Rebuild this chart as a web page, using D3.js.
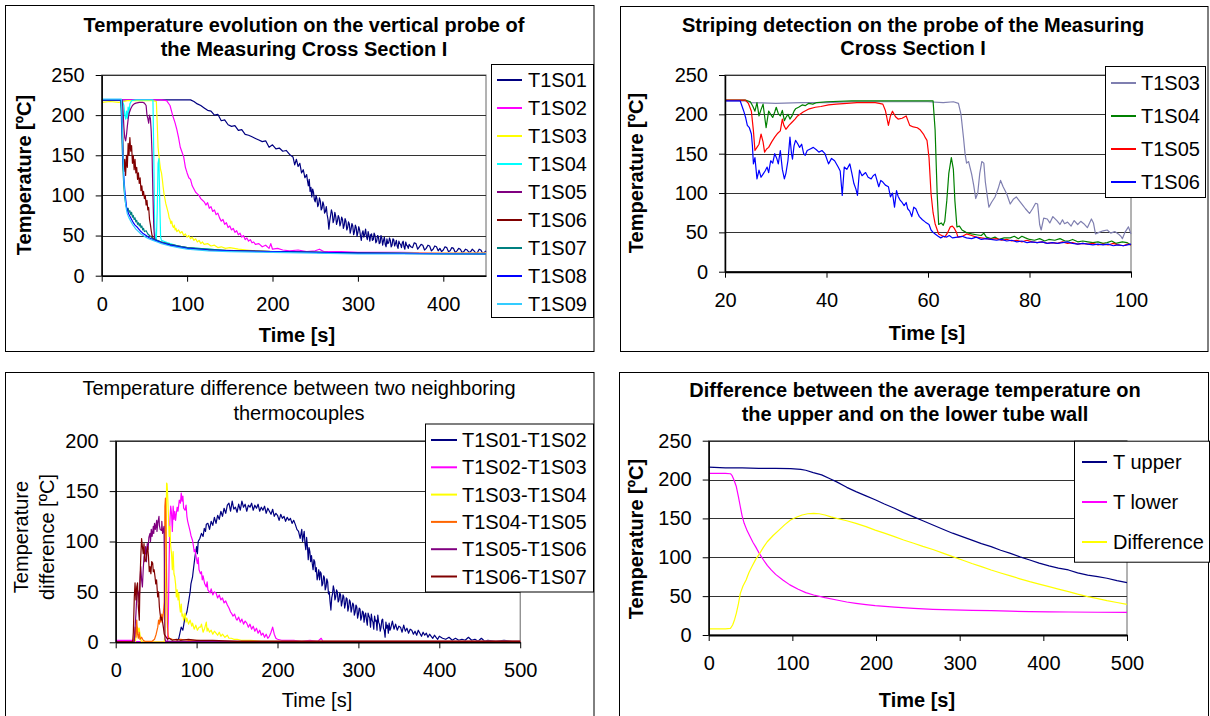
<!DOCTYPE html>
<html>
<head>
<meta charset="utf-8">
<script src="https://cdn.jsdelivr.net/npm/d3@7"></script>
<style>
  body { margin: 0; background: #fff; }
  svg { display: block; font-family: "Liberation Sans", Arial, sans-serif; }
</style>
</head>
<body>
<svg id="chart" width="1210" height="716"></svg>
<script>
// ---------- Panel 1: temperature evolution, vertical probe (time [s], temp [ºC]) ----------
const p1XTicks = [0, 100, 200, 300, 400];
const p1YTicks = [0, 50, 100, 150, 200, 250];

const t1s01 = [[0,219],[50,219],[100,219],[104,219],[108,217],[112,214],[116,212],[120,209],[124,206],[128,205],[132,200],[136,201],[140,193],[144,194],[148,188],[152,186],[156,187],[160,181],[164,182],[168,176],[172,175],[176,173],[180,171],[184,169],[188,167],[192,168],[196,160],[200,163],[204,158],[208,159],[212,155],[216,156],[220,151],[224,148],[226,138],[228,145],[230,136],[232,140],[234,128],[236,132],[238,122],
  [240,126],[241,118],[242,112],[243,120],[244,105],[245,110],[246,98],[247,108],[248,104],[249,95],[250,92],[251,100],[252,96],[253,86],[254,89],[255,97],[256,93],[257,82],[258,84],[259,92],[260,88],[261,78],[262,80],[263,86],[264,76],[265,70],[266,58],[267,68],[268,75],[269,82],[270,78],[271,66],[272,70],[273,79],[274,74],[275,64],[276,68],[277,75],[278,72],[279,62],[280,66],[281,73],[282,70],[283,59],[284,63],[285,71],[286,68],[287,57],[288,60],[289,67],[290,64],[291,53],[292,58],[293,65],[294,62],[295,51],[296,55],[297,63],[298,60],[299,49],[300,54],[301,61],[302,57],[303,50],[304,44],[305,53],[306,56],[307,48],[308,52],[309,58],[310,49],[311,45],[312,55],[313,50],[314,43],[315,51],[316,52],[317,44],[318,45],[319,53],[320,50],[321,41],[322,43],[323,50],[324,49],[325,40],[326,41],[327,50],[328,47],[329,38],[330,44],[331,48],[332,39],[333,36],[334,46],[335,40],[336,41],[337,47],[338,44],[339,36],[340,38],[341,46],[342,45],[343,37],[344,40],[345,44],[346,37],[347,34],[348,43],[349,40],[350,39],[351,35],[352,41],[353,43],[354,36],[355,33],[356,42],[357,38],[358,37],[359,34],[360,39],
  [362,36],[364,35],[366,41],[368,40],[370,33],[372,36],[374,39],[376,38],[378,32],[380,34],[382,38],[384,37],[386,31],[388,33],[390,37],[392,36],[394,31],[396,34],[398,30],[400,32],[402,36],[404,35],[406,30],[408,31],[410,35],[412,34],[414,29],[416,31],[418,34],[420,33],[422,29],[424,30],[426,33],[428,32],[430,29],[432,30],[434,33],[436,31],[438,28],[440,29],[442,33],[444,32],[446,28],[448,29],[450,31]];
const t1s02 = [[0,219],[70,219],[76,218],[80,212],[83,200],[86,190],[88,182],[90,172],[92,160],[94,154],[96,148],[98,135],[100,128],[102,122],[104,120],[106,112],[108,108],[110,104],[112,102],[114,100],[116,96],[118,94],[120,92],[122,88],[124,91],[126,84],[128,86],[130,80],[132,82],[134,76],[136,78],[138,72],[140,68],[142,70],[144,64],[146,66],[148,60],[150,62],[152,57],[154,59],[156,54],[158,56],[160,51],[162,53],[164,48],[166,50],[168,45],[170,47],[172,43],[174,45],[176,41],[178,42],[180,39],[184,40],[188,36],[192,38],[196,34],[198,40],[200,33],[206,34],[212,32],[220,31],[230,32],[240,30],[250,31],[255,33],[260,30],[280,30],[300,29],[350,29],[400,28],[450,28]];
const t1s03 = [[0,216],[10,217],[20,216],[30,218],[40,218],[50,218],[60,218],[64,217],[65,190],[66,160],[67,150],[68,140],[69,132],[70,128],[71,120],[72,110],[73,102],[74,96],[75,90],[76,86],[77,82],[78,78],[79,72],[80,70],[81,65],[82,68],[83,62],[84,60],[85,63],[86,57],[87,59],[88,55],[90,57],[92,53],[94,55],[96,50],[98,52],[100,48],[102,50],[104,46],[106,48],[108,44],[110,46],[112,42],[114,44],[116,40],[118,42],[120,39],[124,40],[128,37],[132,38],[136,35],[140,36],[145,34],[150,35],[160,33],[170,32],[180,31],[200,30],[250,29],[300,28],[450,28]];
const t1s04 = [[0,219],[24,219],[26,212],[27,200],[28,195],[29,205],[30,196],[31,210],[32,200],[33,214],[35,218],[40,219],[60,219],[61,150],[62,60],[63,46],[64,45],[65,80],[66,140],[67,146],[68,90],[69,48],[70,44],[75,42],[80,40],[90,37],[100,35],[125,33],[150,31],[200,30],[250,29],[300,28],[350,28],[400,27],[450,27]];
const t1s05 = [[0,219],[24,219],[25,205],[26,185],[27,172],[28,168],[29,175],[30,186],[31,195],[32,202],[34,208],[36,212],[38,214],[40,215],[44,216],[48,216],[50,215],[52,212],[53,200],[54,196],[55,190],[56,200],[57,196],[58,180],[59,150],[60,100],[61,60],[62,46],[64,44],[70,42],[80,39],[90,37],[100,35],[125,32],[150,31],[200,30],[300,28],[450,27]];
const t1s06 = [[0,219],[23,219],[24,200],[25,160],[26,130],[27,145],[28,125],[29,150],[30,135],[31,165],[32,150],[33,172],[34,155],[35,162],[36,140],[37,150],[38,132],[39,145],[40,128],[41,135],[42,120],[43,128],[44,115],[45,122],[46,106],[47,112],[48,100],[49,105],[50,96],[51,100],[52,88],[53,94],[54,82],[55,85],[56,70],[57,64],[58,56],[59,50],[60,47],[62,45],[66,43],[70,41],[80,38],[90,36],[100,34],[130,32],[200,30],[300,28],[450,27]];
const t1s07 = [[0,219],[22,219],[23,200],[24,160],[25,130],[26,110],[27,98],[28,90],[29,85],[30,82],[31,84],[32,79],[33,81],[34,76],[35,79],[36,73],[37,75],[38,70],[39,72],[40,67],[41,69],[42,64],[43,66],[44,62],[45,65],[46,60],[47,62],[48,57],[49,59],[50,55],[52,56],[54,52],[56,50],[58,48],[60,46],[65,44],[70,42],[80,39],[90,37],[100,35],[125,33],[150,31],[200,30],[250,29],[300,28],[450,27]];
const t1s08 = [[0,219],[23,219],[24,180],[25,144],[26,122],[27,107],[28,96],[29,86],[30,82],[31,78],[33,74],[35,70],[37,66],[39,63],[42,60],[45,56],[48,53],[52,50],[56,47],[60,45],[65,43],[70,41],[80,38],[90,36],[100,34],[125,32],[150,31],[200,30],[250,29],[300,28],[450,27]];
const t1s09 = [[0,220],[23,220],[24,190],[25,150],[26,118],[27,100],[28,90],[29,82],[30,77],[32,72],[34,68],[36,64],[38,61],[40,58],[43,55],[46,52],[50,49],[55,46],[60,44],[65,42],[70,40],[80,37],[90,35],[100,33],[125,31],[150,30],[200,29],[250,28],[300,27],[450,27]];

// ---------- Panel 2: striping detection, 20–100 s ----------
const p2XTicks = [20, 40, 60, 80, 100];
const p2YTicks = [0, 50, 100, 150, 200, 250];

const s2t1s03 = [[20,217],[24,217],[25,215],[30,214],[35,215],[40,215],[45,216],[50,216],[55,216],[60,216],[63,215],[65,216],[66,214],[66.5,200],[67,170],[67.3,150],[67.6,138],[68,140],[68.6,124],[69,110],[69.4,93],[69.8,100],[70.2,125],[70.6,140],[71,138],[71.3,114],[71.7,95],[72,82],[72.5,88],[73.2,95],[73.8,105],[74.3,116],[74.8,108],[75.5,99],[76.2,86],[76.8,92],[77.4,95],[78,90],[78.5,86],[79.2,80],[80,74],[80.6,80],[81.2,87],[81.6,86],[82,60],[82.3,53],[82.8,68],[83.5,67],[84,62],[84.6,70],[85.4,65],[86,60],[86.5,66],[86.9,61],[87.5,63],[88.2,58],[88.8,65],[89.5,60],[90.1,64],[90.7,61],[91.4,56],[92.2,67],[92.6,62],[93,48],[93.7,50],[94.5,52],[95.3,53],[96,49],[96.8,51],[97.5,48],[98,45],[98.3,42],[98.8,50],[99.5,57],[100,48]];
const s2t1s04 = [[20,218],[24,218],[25,216],[25.5,210],[25.9,204],[26.3,215],[26.7,198],[27.1,206],[27.5,213],[28.1,183],[28.6,204],[29,200],[29.4,196],[29.8,203],[30.1,209],[30.5,201],[30.9,198],[31.3,205],[31.7,192],[32,196],[32.4,200],[32.8,194],[33.2,198],[33.6,204],[33.9,207],[34.5,209],[35.2,212],[35.8,211],[36.5,214],[37.3,213],[38.1,215],[40,216],[45,217],[50,217],[55,217],[60,217],[61,217],[61.4,180],[61.8,100],[62.1,60],[62.6,62],[63,59],[63.3,64],[63.7,90],[64.1,125],[64.6,145],[65,130],[65.3,90],[65.7,57],[66.2,58],[66.7,53],[67.5,50],[68.6,48],[69.5,47],[70.5,46],[71,49],[71.5,44],[72.4,42],[73.2,44],[74,41],[75,43],[76.2,43],[77,45],[77.8,42],[78.5,45],[79.2,43],[80,41],[81,40],[82,42],[83,39],[83.8,41],[85,40],[86,42],[87,39],[87.7,39],[88.5,41],[89.5,38],[90.5,39],[91.5,38],[92.5,37],[93.5,38],[94.5,36],[95.3,37],[96.2,39],[97,36],[98.3,38],[99.2,37],[100,34]];
const s2t1s05 = [[20,218],[24,218],[24.6,214],[25.2,204],[25.6,179],[25.9,154],[26.3,158],[26.7,162],[27.1,175],[27.5,165],[27.8,152],[28.2,156],[28.6,158],[29.2,165],[29.8,171],[30.4,176],[30.9,179],[31.3,194],[31.6,186],[32,181],[32.6,186],[33.2,190],[33.8,194],[34.3,198],[35.4,203],[36.6,207],[37.8,209],[38.9,210],[40.4,212],[41.9,213],[44,214],[46,215],[48,215],[49.6,215],[50.4,214],[51.1,213],[51.6,205],[52.2,186],[52.6,198],[53,204],[53.6,197],[54.1,194],[54.9,195],[55.7,198],[56.4,186],[57.1,184],[57.9,183],[58.5,180],[59.1,175],[59.5,170],[59.8,167],[60.2,145],[60.6,99],[61,75],[61.4,61],[62.1,48],[62.7,46],[63.3,44],[63.9,50],[64.4,57],[64.8,58],[65.2,55],[65.6,50],[65.9,44],[66.8,45],[67.6,48],[68.6,46],[69.5,44],[70.5,43],[71.5,42],[72.4,41],[73.5,42],[74.5,40],[75.5,41],[76.5,39],[77.5,40],[78.5,38],[79.5,40],[80.5,38],[81.5,37],[82.5,38],[83.5,36],[84.5,37],[85.5,36],[86.5,38],[87.5,36],[88.5,37],[89.5,35],[90.5,36],[91.5,35],[92.5,36],[93.5,34],[94.5,35],[95.5,34],[96.5,36],[97.5,34],[98.5,33],[99.3,35],[100,34]];
const s2t1s06 = [[20,217],[23,217],[23.7,204],[24.1,195],[24.4,186],[24.8,183],[25.2,175],[25.4,160],[25.6,137],[25.9,145],[26.3,118],[26.7,129],[27.1,120],[27.5,124],[27.9,128],[28.3,133],[28.6,126],[29,141],[29.4,138],[29.8,150],[30.2,144],[30.5,137],[30.9,154],[31.3,130],[31.7,118],[32,125],[32.4,141],[32.8,171],[33.1,150],[33.3,143],[33.6,160],[33.9,167],[34.3,163],[34.7,158],[35.1,162],[35.5,150],[35.8,148],[36.2,154],[36.8,156],[37.4,158],[38,155],[38.5,152],[39.1,154],[39.7,150],[40.4,137],[41,144],[41.6,141],[42.3,133],[42.7,128],[43.1,97],[43.5,133],[44,130],[44.6,137],[45,125],[45.4,112],[45.8,105],[46.1,97],[46.5,129],[47,122],[47.7,126],[48.2,120],[48.8,118],[49.2,122],[49.6,124],[50.3,108],[50.7,116],[51.1,114],[51.6,110],[52.2,108],[52.6,95],[53,100],[53.4,82],[53.8,103],[54.1,96],[54.5,91],[54.9,88],[55.3,84],[55.7,88],[56,80],[56.4,77],[56.8,70],[57.2,82],[57.6,80],[58,74],[58.3,70],[58.9,66],[59.5,63],[60.2,60],[60.6,53],[61,50],[61.4,48],[62,45],[62.5,43],[63.1,45],[63.7,44],[64.2,46],[64.8,43],[65.8,44],[66.7,45],[67.6,43],[68.6,42],[69.5,44],[70.5,41],[71.5,42],[72.4,41],[73.5,40],[74.5,41],[75.5,39],[76.5,40],[77.5,38],[78.5,39],[79.5,37],[80.5,38],[81.5,37],[82.5,38],[83.5,36],[84.5,37],[85.5,36],[86.5,37],[87.5,38],[88.5,36],[89.5,35],[90.5,36],[91.5,35],[92.5,34],[93.5,35],[94.5,34],[95.5,35],[96.5,33],[97.5,34],[98.5,33],[99.3,34],[100,35]];

// ---------- Panel 3: difference between neighbouring thermocouples ----------
const p3XTicks = [0, 100, 200, 300, 400, 500];
const p3YTicks = [0, 50, 100, 150, 200];

const d0102 = [[0,0.5],[50,0.5],[75,1],[78,4],[81,15],[83,12],[85.7,25],[88,30],[90.5,42],[92,50],[93,58],[95,65],[96,72],[98,85],[100,95],[101,88],[102,100],[104,103],[106,108],[108,105],[109.5,113],[111,110],[112,117],[114,118],[116,112],[118,120],[120,116],[122,124],[124,118],[126,126],[128,122],[130,130],[132,125],[134,133],[136,128],[138,136],[140,138],[142,130],[144,140],[146,132],[148,134],[150,129],[152,137],[154,131],[156,140],[158,134],[160,137],[162,130],[164,136],[166,134],[168,138],[170,131],[172,136],[174,133],[176,137],[178,130],[180,134],[182,131],[184,135],[186,128],[188,133],[190,130],[192,127],[194,132],[196,125],[198,128],[200,126],[202,121],[204,127],[206,123],[208,125],[210,120],[212,124],[214,121],[216,123],[218,118],[220,121],[222,117],[224,112],[226,110],[228,103],
  [230,112],[231,100],[232,105],[233,110],[234,98],[235,92],[236,104],[237,95],[238,82],[239,94],[240,90],[241,80],[242,86],[243,78],[244,72],[245,82],[246,80],[247,70],[248,74],[249,62],[250,66],[251,72],[252,62],[253,70],[254,68],[255,56],[256,58],[257,66],[258,64],[259,52],[260,55],[261,63],[262,60],[263,48],[264,50],[265,40],[266,32],[267,44],[268,48],[269,56],[270,52],[271,42],[272,45],[273,52],[274,50],[275,40],[276,42],[277,49],[278,47],[279,36],[280,40],[281,47],[282,45],[283,34],[284,38],[285,44],[286,43],[287,31],[288,35],[289,42],[290,40],[291,30],[292,34],[293,39],[294,37],[295,27],[296,30],[297,37],[298,35],[299,24],[300,28],[301,34],[302,33],[303,22],[304,25],[305,31],[306,30],[307,20],[308,27],[309,29],[310,22],[311,17],[312,29],[313,26],[314,24],[315,15],[316,28],[317,22],[318,20],[319,13],[320,26],[321,21],[322,22],[323,12],[324,27],[325,20],[326,18],[327,11],[328,15],[329,22],[330,23],[331,14],[332,12],[333,5],[334,20],[335,14],[336,17],[337,9],[338,19],[339,12],[340,14],
  [342,21],[344,13],[346,18],[348,12],[350,16],[352,15],[354,10],[356,17],[358,11],[360,14],[362,9],[364,13],[366,12],[368,8],[370,11],[372,7],[374,12],[376,9],[378,6],[380,10],[382,7],[384,9],[386,5],[388,8],[390,6],[392,4],[394,7],[396,5],[398,3],[400,6],[404,4],[408,3],[412,5],[416,2],[420,4],[424,2],[428,3],[432,2],[436,5],[440,2],[444,3],[448,1],[452,4],[456,1],[460,2],[470,1],[480,2],[490,1],[500,1]];
const d0203 = [[0,2],[20,2],[24,2],[25,0.5],[60,0.5],[64,0.5],[65,20],[66,80],[67,120],[68,135],[69,128],[70,110],[71,135],[72,122],[73,130],[74,121],[75,128],[76,134],[77,130],[78.6,141],[80,138],[81,148],[82,140],[83,145],[84,133],[85.7,131],[87,136],[88,125],[89,120],[90.5,115],[92,110],[93,106],[95,101],[96,96],[97,90],[98,92],[100,82],[101,78],[102,84],[103,72],[104.8,68],[106,70],[107,62],[108,66],[110,58],[112,55],[113,60],[114,52],[116.7,49],[118,53],[120,47],[122,50],[124,49],[126,44],[128,47],[130,42],[132,44],[134,39],[136,41],[138,37],[140,34],[142,30],[143,29],[145,26],[147,28],[149,23],[150,22],[152,25],[154,20],[156,23],[158,18],[160,21],[162,19],[164,15],[166,18],[168,13],[170,16],[172,11],[174,14],[176,9],[178,12],[180,7],[182,9],[184,5],[186,8],[188,4],[190,6],[192,10],[194,15],[196,8],[198,4],[200,3],[205,2],[210,2],[220,2],[230,1],[240,2],[250,1],[254,4],[256,1],[270,1],[300,1],[350,1],[400,1],[450,1],[500,1]];
const d0304 = [[0,0.5],[24,0.5],[25,5],[26,12],[27,15],[28,10],[29,14],[30,8],[31,3],[32,0.5],[60,0.5],[61,10],[62,80],[62.9,158],[63.5,157],[64,150],[65,130],[66,105],[67,115],[68,95],[69,88],[70,72],[71,90],[72,68],[73,65],[74,58],[75,45],[76,52],[77,42],[78,49],[79,36],[80,30],[81,38],[82,26],[83,28],[84,22],[85.7,29],[87,20],[88,24],[90,18],[92,22],[94,16],[95,19],[97,13],[99,17],[101,12],[103,15],[104.8,15],[106,18],[108,10],[110,14],[112,20],[113,11],[114,14],[116,10],[118,12],[120,8],[122,11],[124,9],[126,7],[128,10],[130,6],[132,8],[135,5],[138,7],[140,4],[143,4],[146,3],[150,3],[155,2],[160,2],[167,2],[180,1],[200,1],[500,1]];
const d0405 = [[0,0.5],[22,0.5],[23,8],[24,15],[25,5],[26,22],[27,8],[28,4],[29,10],[30,3],[32,5],[34,2],[36,1],[40,1],[45,1],[48,3],[50,8],[52,15],[53,22],[54,18],[55,25],[56,20],[57,28],[58,22],[59,30],[60,40],[60.8,135],[61.5,143],[62,125],[63,60],[64,15],[65,6],[66,4],[70,3],[75,2],[80,3],[90,2],[100,2],[120,1],[150,1],[200,1],[300,1],[500,1]];
const d0506 = [[0,0.5],[23,0.5],[24,15],[25,28],[26,45],[27,52],[28,49],[29,40],[30,60],[31,75],[32,62],[33,55],[34,72],[35,85],[36,88],[37,95],[38,80],[39,98],[40,92],[41,104],[42.4,108],[43,100],[44,112],[45,105],[46.5,115],[47,108],[48,118],[49,112],[50.7,121],[51,110],[52,118],[53.5,125],[54,116],[55,112],[56.8,111],[57,120],[58,108],[59.7,115],[60.2,80],[60.6,20],[61,3],[62,1],[70,1],[100,1],[500,1]];
const d0607 = [[0,0.5],[21,0.5],[21.8,10],[23,45],[23.9,59],[25,42],[26,55],[27,59],[28,35],[29.2,22],[30,60],[31,85],[32,103],[33,95],[34,88],[35,98],[36,80],[37.5,82],[38.5,90],[39.5,95],[40.5,85],[41.5,70],[42.4,75],[43.5,68],[44.5,80],[45.7,78.6],[46.5,70],[47.5,72],[48.6,65],[49.5,58],[50.5,62],[51.9,45],[53,50],[54,35],[54.8,29],[56,22],[57,25],[58.9,15],[60,8],[62,5.6],[64,3],[66,4],[70,2],[75,3],[80,2],[90,3],[100,2],[120,2],[150,1],[200,1],[300,1],[400,1],[500,1]];

// ---------- Panel 4: average upper / lower wall temperature ----------
const p4XTicks = [0, 100, 200, 300, 400, 500];
const p4YTicks = [0, 50, 100, 150, 200, 250];

const tUpper = [[0,216],[20,215],[40,215],[60,214.5],[80,214.5],[98,214],[110,213],[116,212],[125,209],[135,206],[145,201],[153,197],[165,190],[176,184.5],[188,179],[199,174],[210,168.5],[222,163],[233,157.5],[245,152],[256,147],[268,141.5],[280,136],[291.5,131],[303,126.5],[314.6,122],[326,117.5],[337.6,113.7],[349,109],[360.7,105],[372,100.5],[383.8,96.5],[395,92.5],[406.8,89],[418,86],[430,83.7],[441,80],[453,77],[465,75],[476,73],[488,70],[500,67.5]];
const tLower = [[0,208],[10,208],[20,208],[26,207.5],[28,205],[30,200],[33,191],[35.5,178],[37.8,165],[40,153],[42.4,143.7],[46,134],[49.4,126.6],[53,119],[56,113.7],[61,104],[65.5,96.5],[70,89.5],[74.7,83.7],[80,78],[88.6,70.8],[97,64.5],[107,58.8],[116,54.5],[125.5,51.5],[139,48],[153,45],[165,42.5],[176,40.8],[188,39.2],[199,37.8],[222,35.8],[245,34.3],[268,33],[291.5,32.2],[315,31.6],[337.6,31.3],[360,30.6],[383.8,30],[407,29.8],[430,29.6],[465,29.3],[500,29.2]];
const tDiff = [[0,8],[10,8],[20,8],[26,8.5],[28.6,12.9],[31,20],[33,27.9],[35.5,40],[37.8,53.6],[41,63],[44.7,70.8],[48,80],[51.7,88],[56,97],[61,105],[65.5,113],[70,120],[77,128],[84,135],[91,142],[97.8,148],[104.7,151.5],[111.6,154.4],[118.5,156],[125.5,156.6],[132,156],[139,154.4],[146,152],[153,150],[165,147],[176,143.7],[188,139.5],[199,135],[210,131],[222,126.6],[233,122.3],[245,118],[256,114],[268,110],[280,105.4],[291.5,100.8],[303,96.5],[314.6,92],[326,88],[337.6,83.7],[349,79.8],[360.7,76],[372,72.3],[383.8,68.6],[395,65.4],[406.8,62.2],[418,59],[430,55.8],[441,52.5],[453,49.3],[465,46.7],[476,44.2],[488,41.8],[500,39.5]];

const FONT = 20;

const panels = [
  {
    box: [5.5, 5.5, 588.5, 346],
    title: ["Temperature evolution on the vertical probe of", "the Measuring Cross Section I"],
    titleX: 304, titleY: [32, 56], titleBold: true,
    plot: { left: 101.7, top: 75, right: 486, bottom: 275.7 },
    xDomain: [0, 450], xTicks: p1XTicks,
    yDomain: [0, 250], yTicks: p1YTicks,
    xLabel: { text: "Time [s]", x: 297, y: 342, bold: true },
    yLabel: { lines: ["Temperature [ºC]"], x: [24], y: 175, bold: true },
    axisWidth: 1.5,
    series: [
      { name: "T1S01", color: "#000080", data: t1s01 },
      { name: "T1S02", color: "#ff00ff", data: t1s02 },
      { name: "T1S03", color: "#ffff00", data: t1s03 },
      { name: "T1S04", color: "#00ffff", data: t1s04 },
      { name: "T1S05", color: "#800080", data: t1s05 },
      { name: "T1S06", color: "#800000", data: t1s06 },
      { name: "T1S07", color: "#008080", data: t1s07 },
      { name: "T1S08", color: "#0000ff", data: t1s08 },
      { name: "T1S09", color: "#33ccff", data: t1s09 }
    ],
    legend: { x: 491, y: 64, w: 102, h: 253, first: 80, step: 28, lineX: [497, 522], textX: 528 }
  },
  {
    box: [620.5, 6.5, 587.5, 345],
    title: ["Striping detection on the probe of the Measuring", "Cross Section I"],
    titleX: 913, titleY: [32, 55], titleBold: true,
    plot: { left: 725, top: 75, right: 1131, bottom: 271.7 },
    xDomain: [20, 100], xTicks: p2XTicks,
    yDomain: [0, 250], yTicks: p2YTicks,
    xLabel: { text: "Time [s]", x: 927, y: 340, bold: true },
    yLabel: { lines: ["Temperature [ºC]"], x: [636], y: 173, bold: true },
    axisWidth: 2,
    series: [
      { name: "T1S03", color: "#7f7fb0", data: s2t1s03 },
      { name: "T1S04", color: "#008000", data: s2t1s04 },
      { name: "T1S05", color: "#ff0000", data: s2t1s05 },
      { name: "T1S06", color: "#0000ff", data: s2t1s06 }
    ],
    legend: { x: 1105, y: 66, w: 100, h: 131, first: 83, step: 33, lineX: [1111, 1136], textX: 1141 }
  },
  {
    box: [5.5, 372.5, 588.5, 360],
    title: ["Temperature difference between two neighboring", "thermocouples"],
    titleX: 299, titleY: [395, 420], titleBold: false,
    plot: { left: 115.7, top: 440.7, right: 520.2, bottom: 642.3 },
    xDomain: [0, 500], xTicks: p3XTicks,
    yDomain: [0, 200], yTicks: p3YTicks,
    xLabel: { text: "Time [s]", x: 317, y: 707, bold: false },
    yLabel: { lines: ["Temperature", "difference [ºC]"], x: [21, 47], y: 537, bold: false },
    axisWidth: 1.5,
    series: [
      { name: "T1S01-T1S02", color: "#000080", data: d0102 },
      { name: "T1S02-T1S03", color: "#ff00ff", data: d0203 },
      { name: "T1S03-T1S04", color: "#ffff00", data: d0304 },
      { name: "T1S04-T1S05", color: "#ff6600", data: d0405 },
      { name: "T1S05-T1S06", color: "#800080", data: d0506 },
      { name: "T1S06-T1S07", color: "#800000", data: d0607 }
    ],
    legend: { x: 425, y: 423.5, w: 168, h: 168, first: 440, step: 27.3, lineX: [431, 457], textX: 462 }
  },
  {
    box: [619.5, 372.5, 589, 360],
    title: ["Difference between the average temperature on", "the upper and on the lower tube wall"],
    titleX: 915, titleY: [397, 421], titleBold: true,
    plot: { left: 708.7, top: 440.7, right: 1127, bottom: 635 },
    xDomain: [0, 500], xTicks: p4XTicks,
    yDomain: [0, 250], yTicks: p4YTicks,
    xLabel: { text: "Time [s]", x: 917, y: 707, bold: true },
    yLabel: { lines: ["Temperature [ºC]"], x: [636], y: 539, bold: true },
    axisWidth: 2,
    series: [
      { name: "T upper", color: "#000080", data: tUpper },
      { name: "T lower", color: "#ff00ff", data: tLower },
      { name: "Difference", color: "#ffff00", data: tDiff }
    ],
    legend: { x: 1074, y: 440.7, w: 135, h: 121, first: 462, step: 40, lineX: [1082, 1107], textX: 1113 }
  }
];

const svg = d3.select("#chart");

svg.append("rect")
  .attr("width", 1210).attr("height", 716)
  .attr("fill", "#fff");

panels.forEach((p, i) => drawPanel(p, i));

function drawPanel(p, i) {
  const g = svg.append("g").attr("class", "panel");
  const { left, top, right, bottom } = p.plot;

  // chart area border
  g.append("rect")
    .attr("x", p.box[0]).attr("y", p.box[1])
    .attr("width", p.box[2]).attr("height", p.box[3])
    .attr("fill", "#fff").attr("stroke", "#000").attr("stroke-width", 1);

  // title
  p.title.forEach((line, k) => {
    g.append("text")
      .attr("x", p.titleX).attr("y", p.titleY[k])
      .attr("text-anchor", "middle")
      .attr("font-size", FONT)
      .attr("font-weight", p.titleBold ? "700" : "400")
      .text(line);
  });

  const x = d3.scaleLinear().domain(p.xDomain).range([left, right]);
  const y = d3.scaleLinear().domain(p.yDomain).range([bottom, top]);

  // plot area frame
  g.append("rect")
    .attr("x", left).attr("y", top)
    .attr("width", right - left).attr("height", bottom - top)
    .attr("fill", "none").attr("stroke", "#666").attr("stroke-width", 1);

  // gridlines
  g.selectAll(".grid")
    .data(p.yTicks.filter(v => v !== p.yDomain[0]))
    .join("line")
      .attr("x1", left).attr("x2", right)
      .attr("y1", d => Math.round(y(d)) + 0.5).attr("y2", d => Math.round(y(d)) + 0.5)
      .attr("stroke", "#333").attr("stroke-width", 1);

  // series
  const clipId = `clip${i}`;
  g.append("clipPath").attr("id", clipId)
    .append("rect")
      .attr("x", left).attr("y", top - 2)
      .attr("width", right - left + 1).attr("height", bottom - top + 2);

  const line = d3.line().x(d => x(d[0])).y(d => y(d[1]));
  const lines = g.append("g").attr("clip-path", `url(#${clipId})`);
  p.series.forEach(s => {
    lines.append("path")
      .datum(s.data)
      .attr("fill", "none")
      .attr("stroke", s.color)
      .attr("stroke-width", 1.2)
      .attr("stroke-linejoin", "round")
      .attr("d", line);
  });

  // axes
  const yAxis = g.append("g")
    .attr("transform", `translate(${left},0)`)
    .call(d3.axisLeft(y).tickValues(p.yTicks).tickSize(6).tickPadding(11).tickSizeOuter(0));
  yAxis.attr("font-size", FONT).attr("font-family", null);
  yAxis.select(".domain").attr("stroke-width", 1.5);

  const xAxis = g.append("g")
    .attr("transform", `translate(0,${bottom})`)
    .call(d3.axisBottom(x).tickValues(p.xTicks).tickSize(6).tickPadding(15).tickSizeOuter(0));
  xAxis.attr("font-size", FONT).attr("font-family", null);
  xAxis.select(".domain").attr("stroke-width", p.axisWidth);

  // axis titles
  g.append("text")
    .attr("x", p.xLabel.x).attr("y", p.xLabel.y)
    .attr("text-anchor", "middle")
    .attr("font-size", FONT)
    .attr("font-weight", p.xLabel.bold ? "700" : "400")
    .text(p.xLabel.text);

  p.yLabel.lines.forEach((txt, k) => {
    g.append("text")
      .attr("transform", `translate(${p.yLabel.x[k]},${p.yLabel.y}) rotate(-90)`)
      .attr("text-anchor", "middle")
      .attr("dominant-baseline", "central")
      .attr("font-size", FONT)
      .attr("font-weight", p.yLabel.bold ? "700" : "400")
      .text(txt);
  });

  // legend
  const L = p.legend;
  const lg = g.append("g");
  lg.append("rect")
    .attr("x", L.x + 0.5).attr("y", L.y + 0.5)
    .attr("width", L.w).attr("height", L.h)
    .attr("fill", "#fff").attr("stroke", "#000").attr("stroke-width", 1);
  p.series.forEach((s, k) => {
    const cy = L.first + k * L.step;
    lg.append("line")
      .attr("x1", L.lineX[0]).attr("x2", L.lineX[1])
      .attr("y1", cy).attr("y2", cy)
      .attr("stroke", s.color).attr("stroke-width", 2);
    lg.append("text")
      .attr("x", L.textX).attr("y", cy)
      .attr("dominant-baseline", "central")
      .attr("font-size", FONT)
      .text(s.name);
  });
}
</script>
</body>
</html>
